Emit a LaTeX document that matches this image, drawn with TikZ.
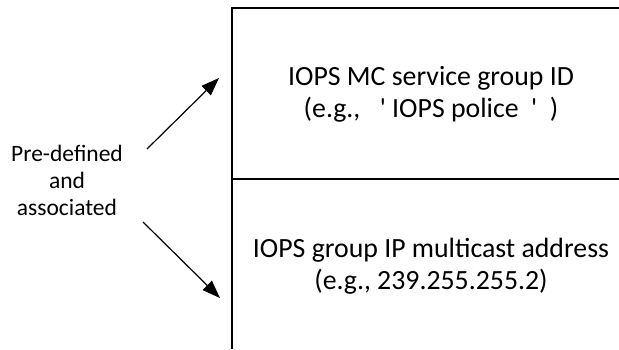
\documentclass[tikz,border=0pt]{standalone}
\usepackage{fontspec}
\setmainfont{Carlito}
\usetikzlibrary{arrows.meta}

\begin{document}
\begin{tikzpicture}[x=1pt,y=1pt,
    field/.style={align=center, font=\fontsize{27.8}{32}\selectfont},
    side/.style={align=center, font=\fontsize{23.5}{27}\selectfont},
    link/.style={line width=1.2pt, -{Triangle[length=18pt,width=13pt]}}]
    \useasboundingbox (0,0) rectangle (619,349);

    % message box, open on the right and at the bottom
    \draw[line width=1.2pt] (619,341) -- (232,341) -- (232,0);
    \draw[line width=1.2pt] (232,170) -- (619,170);

    \node[field] (groupid) at (431,254.5) {IOPS MC service group ID\\(e.g.,\hspace{0.7em}\textquotesingle\ IOPS police\hspace{0.45em}\textquotesingle\hspace{0.45em})};
    \node[field] (mcaddr) at (431,82.5) {IOPS group IP multicast address\\(e.g., 239.255.255.2)};

    \node[side] (assoc) at (67,169) {Pre-defined\\and\\associated};
    \coordinate (up) at (219,271);
    \coordinate (down) at (220,51);

    \draw[link] ([xshift=80pt,yshift=31pt]assoc.center) -- (up);
    \draw[link] ([xshift=76pt,yshift=-42pt]assoc.center) -- (down);
\end{tikzpicture}
\end{document}
